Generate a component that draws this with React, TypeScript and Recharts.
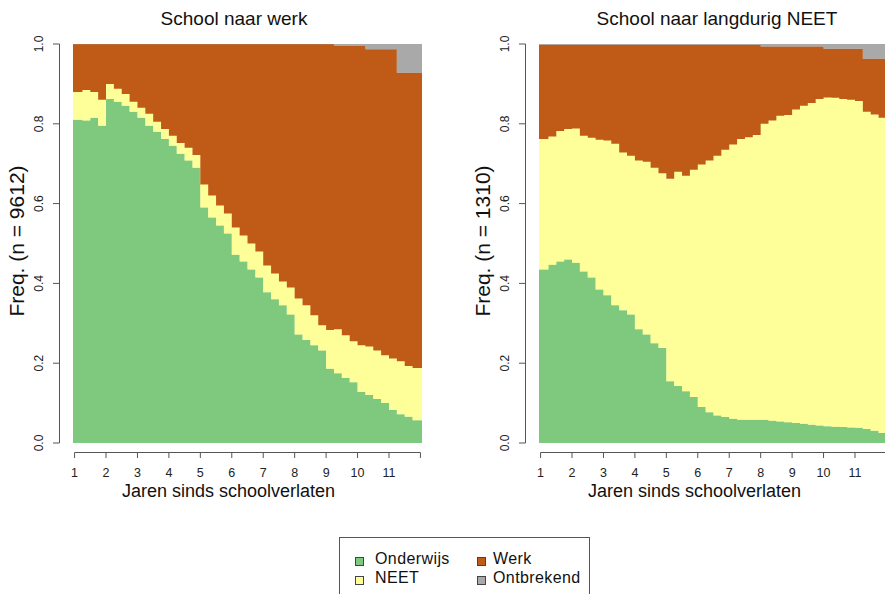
import React from 'react';
import { AreaChart, Area, XAxis, YAxis } from 'recharts';

// start of each quarter (years since leaving school); the last entry closes the final step
const years = [
  0.95, 1.25, 1.5, 1.75, 2, 2.25, 2.5, 2.75, 3, 3.25, 3.5, 3.75, 4, 4.25, 4.5,
  4.75, 5, 5.25, 5.5, 5.75, 6, 6.25, 6.5, 6.75, 7, 7.25, 7.5, 7.75, 8, 8.25,
  8.5, 8.75, 9, 9.25, 9.5, 9.75, 10, 10.25, 10.5, 10.75, 11, 11.25, 11.5, 11.75, 12.05,
];
const xTicks = [1, 2, 3, 4, 5, 6, 7, 8, 9, 10, 11, 12];
const yTicks = [0, 0.2, 0.4, 0.6, 0.8, 1];

// School naar werk (n = 9612)
const werkOnderwijs = [
  0.81, 0.808, 0.815, 0.795, 0.862, 0.855, 0.845, 0.83, 0.815, 0.795,
  0.78, 0.762, 0.745, 0.725, 0.708, 0.69, 0.59, 0.565, 0.545, 0.525,
  0.472, 0.455, 0.435, 0.415, 0.378, 0.36, 0.345, 0.322, 0.272, 0.258,
  0.245, 0.232, 0.186, 0.175, 0.163, 0.152, 0.128, 0.12, 0.11, 0.1,
  0.083, 0.072, 0.066, 0.057, 0.057,
];
const werkNeet = [
  0.07, 0.077, 0.065, 0.065, 0.038, 0.033, 0.03, 0.025, 0.025, 0.03,
  0.025, 0.025, 0.025, 0.027, 0.032, 0.032, 0.058, 0.055, 0.05, 0.05,
  0.068, 0.065, 0.065, 0.065, 0.067, 0.065, 0.06, 0.068, 0.09, 0.087,
  0.075, 0.063, 0.097, 0.11, 0.107, 0.103, 0.117, 0.122, 0.122, 0.12,
  0.129, 0.133, 0.127, 0.131, 0.131,
];
const werkWerk = [
  0.12, 0.115, 0.12, 0.14, 0.1, 0.112, 0.125, 0.145, 0.16, 0.175,
  0.195, 0.213, 0.23, 0.248, 0.26, 0.278, 0.352, 0.38, 0.405, 0.425,
  0.46, 0.48, 0.5, 0.52, 0.555, 0.575, 0.595, 0.61, 0.638, 0.655,
  0.68, 0.705, 0.717, 0.71, 0.725, 0.74, 0.75, 0.745, 0.755, 0.767,
  0.775, 0.723, 0.735, 0.74, 0.74,
];
const werkOntbrekend = [
  0, 0, 0, 0, 0, 0, 0, 0, 0, 0,
  0, 0, 0, 0, 0, 0, 0, 0, 0, 0,
  0, 0, 0, 0, 0, 0, 0, 0, 0, 0,
  0, 0, 0, 0.005, 0.005, 0.005, 0.005, 0.013, 0.013, 0.013,
  0.013, 0.072, 0.072, 0.072, 0.072,
];

// School naar langdurig NEET (n = 1310)
const neetOnderwijs = [
  0.435, 0.447, 0.455, 0.46, 0.452, 0.43, 0.415, 0.385, 0.37, 0.345,
  0.333, 0.322, 0.285, 0.272, 0.25, 0.238, 0.155, 0.143, 0.13, 0.115,
  0.09, 0.077, 0.069, 0.065, 0.061, 0.058, 0.058, 0.058, 0.058, 0.056,
  0.054, 0.052, 0.05, 0.048, 0.046, 0.044, 0.042, 0.041, 0.04, 0.039,
  0.038, 0.035, 0.031, 0.025, 0.025,
];
const neetNeet = [
  0.327, 0.321, 0.327, 0.327, 0.336, 0.34, 0.35, 0.375, 0.388, 0.405,
  0.395, 0.398, 0.423, 0.433, 0.44, 0.438, 0.507, 0.537, 0.54, 0.57,
  0.608, 0.631, 0.651, 0.67, 0.687, 0.704, 0.708, 0.714, 0.742, 0.752,
  0.766, 0.77, 0.786, 0.797, 0.806, 0.818, 0.824, 0.824, 0.822, 0.821,
  0.819, 0.795, 0.792, 0.79, 0.79,
];
const neetWerk = [
  0.236, 0.23, 0.216, 0.211, 0.21, 0.228, 0.233, 0.238, 0.24, 0.248,
  0.27, 0.278, 0.29, 0.293, 0.308, 0.322, 0.336, 0.318, 0.328, 0.313,
  0.3, 0.29, 0.278, 0.263, 0.25, 0.236, 0.232, 0.226, 0.194, 0.186,
  0.174, 0.172, 0.158, 0.149, 0.142, 0.132, 0.122, 0.123, 0.126, 0.128,
  0.131, 0.133, 0.14, 0.148, 0.148,
];
const neetOntbrekend = [
  0.002, 0.002, 0.002, 0.002, 0.002, 0.002, 0.002, 0.002, 0.002, 0.002,
  0.002, 0.002, 0.002, 0.002, 0.002, 0.002, 0.002, 0.002, 0.002, 0.002,
  0.002, 0.002, 0.002, 0.002, 0.002, 0.002, 0.002, 0.002, 0.006, 0.006,
  0.006, 0.006, 0.006, 0.006, 0.006, 0.006, 0.012, 0.012, 0.012, 0.012,
  0.012, 0.037, 0.037, 0.037, 0.037,
];

const STATES = [
  { key: 'onderwijs', label: 'Onderwijs', color: '#7FC97F' },
  { key: 'neet', label: 'NEET', color: '#FFFF99' },
  { key: 'werk', label: 'Werk', color: '#BF5B17' },
  { key: 'ontbrekend', label: 'Ontbrekend', color: '#A9A9A9' },
];

const toRows = (o: number[], n: number[], w: number[], m: number[]) =>
  years.map((x, i) => ({ x, onderwijs: o[i], neet: n[i], werk: w[i], ontbrekend: m[i] }));

const werkRows = toRows(werkOnderwijs, werkNeet, werkWerk, werkOntbrekend);
const neetRows = toRows(neetOnderwijs, neetNeet, neetWerk, neetOntbrekend);

const FONT = '"Liberation Sans", Arial, Helvetica, sans-serif';
const AXIS = '#555';
const PLOT_W = 349;
const PLOT_H = 399;
const X_MIN = 0.95;
const X_MAX = 12.05;
const UNIT = PLOT_W / (X_MAX - X_MIN);

// R-style axes: detached from the plot region, line spans first to last tick
const XTick = (props: any) => {
  const { x, y, payload } = props;
  const v = payload.value as number;
  return (
    <g>
      {v === xTicks[0] && (
        <line x1={x} x2={x + (xTicks[xTicks.length - 1] - v) * UNIT} y1={y + 9.5} y2={y + 9.5} stroke={AXIS} />
      )}
      <line x1={x} x2={x} y1={y + 9.5} y2={y + 15} stroke={AXIS} />
      {v < 12 && (
        <text x={x} y={y + 30} textAnchor="middle" dominantBaseline="central" fontSize={12.5} fill="#222" fontFamily={FONT}>
          {v}
        </text>
      )}
    </g>
  );
};

const YTick = (props: any) => {
  const { x, y, payload } = props;
  const v = payload.value as number;
  const lx = x - 34;
  return (
    <g>
      {v === 0 && <line x1={x - 13.5} x2={x - 13.5} y1={y} y2={y - PLOT_H} stroke={AXIS} />}
      <line x1={x - 20} x2={x - 13.5} y1={y} y2={y} stroke={AXIS} />
      <text
        x={lx}
        y={y}
        transform={`rotate(-90 ${lx} ${y})`}
        textAnchor="middle"
        dominantBaseline="central"
        fontSize={12}
        fill="#222"
        fontFamily={FONT}
      >
        {v.toFixed(1)}
      </text>
    </g>
  );
};

interface PanelProps {
  left: number;
  title: string;
  titleCenter: number;
  yLabel: string;
  rows: any[];
}

const Panel: React.FC<PanelProps> = ({ left, title, titleCenter, yLabel, rows }) => (
  <div style={{ position: 'absolute', left, top: 0, width: 440, height: 510 }}>
    <AreaChart width={440} height={510} data={rows} margin={{ top: 44, right: 18, bottom: 0, left: 0 }}>
      <XAxis
        dataKey="x"
        type="number"
        domain={[X_MIN, X_MAX]}
        ticks={xTicks}
        interval={0}
        height={67}
        axisLine={false}
        tickLine={false}
        tickSize={0}
        tickMargin={0}
        allowDataOverflow
        tick={(p: any) => <XTick {...p} />}
      />
      <YAxis
        type="number"
        domain={[0, 1]}
        ticks={yTicks}
        interval={0}
        width={73}
        axisLine={false}
        tickLine={false}
        tickSize={0}
        tickMargin={0}
        allowDataOverflow
        tick={(p: any) => <YTick {...p} />}
      />
      {STATES.map((s) => (
        <Area
          key={s.key}
          dataKey={s.key}
          stackId="a"
          type="stepAfter"
          fill={s.color}
          fillOpacity={1}
          stroke={s.color}
          strokeWidth={0.5}
          dot={false}
          activeDot={false}
          isAnimationActive={false}
        />
      ))}
    </AreaChart>
    <div
      style={{
        position: 'absolute', left: titleCenter - 200, width: 400, top: 8,
        textAlign: 'center', fontSize: 19, lineHeight: '22px', color: '#111',
      }}
    >
      {title}
    </div>
    <div
      style={{
        position: 'absolute', left: 228.5 - 200, width: 400, top: 480,
        textAlign: 'center', fontSize: 18, lineHeight: '22px', color: '#111',
      }}
    >
      Jaren sinds schoolverlaten
    </div>
    <div
      style={{
        position: 'absolute', left: 16.5 - 150, width: 300, top: 241 - 12, height: 24,
        textAlign: 'center', fontSize: 21, lineHeight: '24px', color: '#111',
        transform: 'rotate(-90deg)', whiteSpace: 'nowrap',
      }}
    >
      {yLabel}
    </div>
  </div>
);

const App: React.FC = () => (
  <div
    style={{
      position: 'absolute', left: 0, top: 0, width: 885, height: 594,
      overflow: 'hidden', background: '#fff', fontFamily: FONT,
    }}
  >
    <Panel left={0} title="School naar werk" titleCenter={234} yLabel="Freq. (n = 9612)" rows={werkRows} />
    <Panel left={466} title="School naar langdurig NEET" titleCenter={251} yLabel="Freq. (n = 1310)" rows={neetRows} />
    <div
      style={{
        position: 'absolute', left: 339, top: 537, width: 251, height: 80,
        border: '1px solid #555', boxSizing: 'border-box',
      }}
    >
      {STATES.map((s, i) => {
        const col = Math.floor(i / 2);
        const row = i % 2;
        return (
          <React.Fragment key={s.key}>
            <div
              style={{
                position: 'absolute', left: col === 0 ? 15 : 137, top: row === 0 ? 19 : 38,
                width: 9, height: 9, background: s.color, border: '1px solid #444', boxSizing: 'border-box',
              }}
            />
            <div
              style={{
                position: 'absolute', left: col === 0 ? 35 : 153, top: row === 0 ? 12 : 30.5,
                fontSize: 16, lineHeight: '18px', letterSpacing: 0.4, color: '#111', whiteSpace: 'nowrap',
              }}
            >
              {s.label}
            </div>
          </React.Fragment>
        );
      })}
    </div>
  </div>
);

export default App;
